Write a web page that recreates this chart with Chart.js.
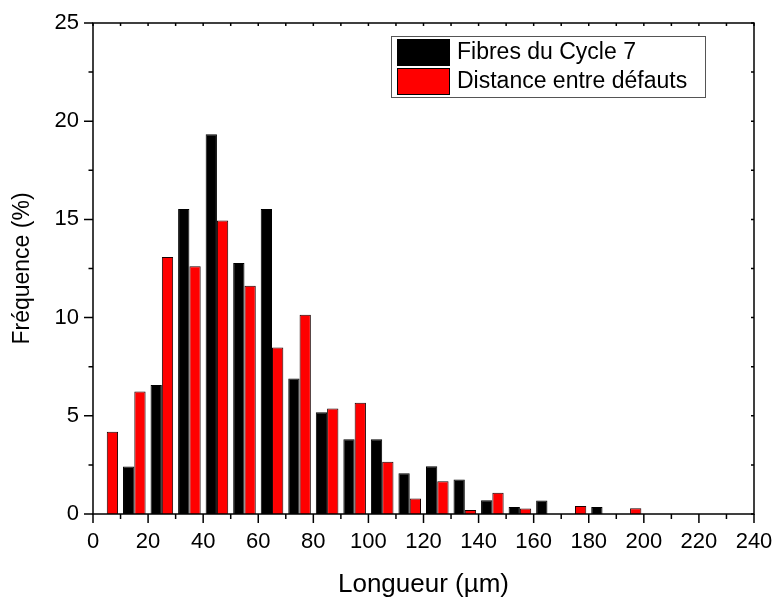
<!DOCTYPE html>
<html>
<head>
<meta charset="utf-8">
<script src="https://cdn.jsdelivr.net/npm/chart.js@4/dist/chart.umd.min.js"></script>
<style>
  html, body { margin: 0; padding: 0; background: #fff; }
  #wrap { width: 776px; height: 600px; }
</style>
</head>
<body>
<div id="wrap"><canvas id="c" width="776" height="600"></canvas></div>
<script>
// bin centres (µm) and frequencies (%)
var binCentres = [5, 15, 25, 35, 45, 55, 65, 75, 85, 95, 105, 115, 125, 135, 145, 155, 165, 175, 185, 195];
var fibresCycle7 = [0, 2.42, 6.57, 15.53, 19.33, 12.78, 15.53, 6.9, 5.18, 3.81, 3.81, 2.08, 2.43, 1.76, 0.70, 0.36, 0.69, 0, 0.36, 0];
var distanceDefauts = [4.19, 6.24, 13.09, 12.61, 14.94, 11.62, 8.48, 10.15, 5.37, 5.66, 2.66, 0.79, 1.67, 0.21, 1.08, 0.28, 0, 0.41, 0, 0.29];
var seriesLabels = ['Fibres du Cycle 7', 'Distance entre défauts'];
var seriesColors = ['#000000', '#ff0000'];

Chart.defaults.font.family = '"Liberation Sans", Arial, Helvetica, sans-serif';
Chart.defaults.color = '#000';

function points(values) {
    return binCentres.map(function(x, i) { return {x: x, y: values[i]}; });
}

// frame round the plot plus major/minor tick marks, placed through the scales
var framePlugin = {
    id: 'frame',
    afterDraw: function(chart) {
        var ctx = chart.ctx, a = chart.chartArea,
            xs = chart.scales.x, ys = chart.scales.y, v, p;
        ctx.save();
        ctx.strokeStyle = '#000';
        ctx.lineWidth = 1.5;
        ctx.strokeRect(a.left, a.top, a.right - a.left, a.bottom - a.top);
        ctx.beginPath();
        for (v = 0; v <= 240; v += 10) {
            p = xs.getPixelForValue(v);
            ctx.moveTo(p, a.bottom);
            ctx.lineTo(p, a.bottom + (v % 20 === 0 ? 9 : 5));
            ctx.moveTo(p, a.top);
            ctx.lineTo(p, a.top + 3);
        }
        for (v = 0; v <= 25; v += 2.5) {
            p = ys.getPixelForValue(v);
            ctx.moveTo(a.left, p);
            ctx.lineTo(a.left - (v % 5 === 0 ? 9 : 4.5), p);
            ctx.moveTo(a.right, p);
            ctx.lineTo(a.right - 3, p);
        }
        ctx.stroke();
        ctx.restore();
    }
};

// boxed legend sitting inside the plot, top right
var boxLegend = {
    id: 'boxLegend',
    afterDraw: function(chart) {
        var ctx = chart.ctx, a = chart.chartArea,
            x0 = a.left + 298, y0 = a.top + 13, w = 314, h = 61;
        ctx.save();
        ctx.fillStyle = '#fff';
        ctx.fillRect(x0, y0, w, h);
        ctx.strokeStyle = '#555';
        ctx.lineWidth = 1;
        ctx.strokeRect(x0 + 0.5, y0 + 0.5, w, h);
        ctx.font = '23px "Liberation Sans", Arial, sans-serif';
        ctx.textBaseline = 'middle';
        chart.data.datasets.forEach(function(ds, i) {
            var sy = y0 + 3 + i * 29;
            ctx.fillStyle = ds.backgroundColor;
            ctx.fillRect(x0 + 6, sy, 53, 27);
            ctx.strokeStyle = '#000';
            ctx.strokeRect(x0 + 6.5, sy + 0.5, 52, 26);
            ctx.fillStyle = '#000';
            ctx.fillText(ds.label, x0 + 66, sy + 14);
        });
        ctx.restore();
    }
};

new Chart(document.getElementById('c').getContext('2d'), {
    type: 'bar',
    data: {
        datasets: [
            {
                label: seriesLabels[0],
                data: points(fibresCycle7),
                backgroundColor: seriesColors[0],
                borderColor: '#000',
                borderWidth: 1
            },
            {
                label: seriesLabels[1],
                data: points(distanceDefauts),
                backgroundColor: seriesColors[1],
                borderColor: '#1a0000',
                borderWidth: 1
            }
        ]
    },
    options: {
        responsive: false,
        animation: false,
        events: [],
        layout: { padding: { left: 0, right: 22, top: 23, bottom: 0 } },
        datasets: { bar: { categoryPercentage: 0.82, barPercentage: 1 } },
        plugins: { legend: { display: false }, tooltip: { enabled: false } },
        scales: {
            x: {
                type: 'linear',
                min: 0,
                max: 240,
                offset: false,
                grid: { display: false, drawTicks: false },
                border: { display: false },
                ticks: { stepSize: 20, padding: 15, font: { size: 22 }, maxRotation: 0 },
                title: { display: true, text: 'Longueur (µm)', font: { size: 26 }, padding: { top: 0, bottom: 0 } },
                afterFit: function(s) {
                    s.height = 86;
                    s.paddingLeft = 0;
                    s.paddingRight = 0;
                }
            },
            y: {
                min: 0,
                max: 25,
                grid: { display: false, drawTicks: false },
                border: { display: false },
                ticks: { stepSize: 5, padding: 14, font: { size: 22 } },
                title: { display: true, text: 'Fréquence (%)', font: { size: 23 }, padding: { top: 9, bottom: 0 } },
                afterFit: function(s) {
                    s.width = 93;
                    s.paddingTop = 0;
                    s.paddingBottom = 0;
                }
            }
        }
    },
    plugins: [framePlugin, boxLegend]
});
</script>
</body>
</html>
